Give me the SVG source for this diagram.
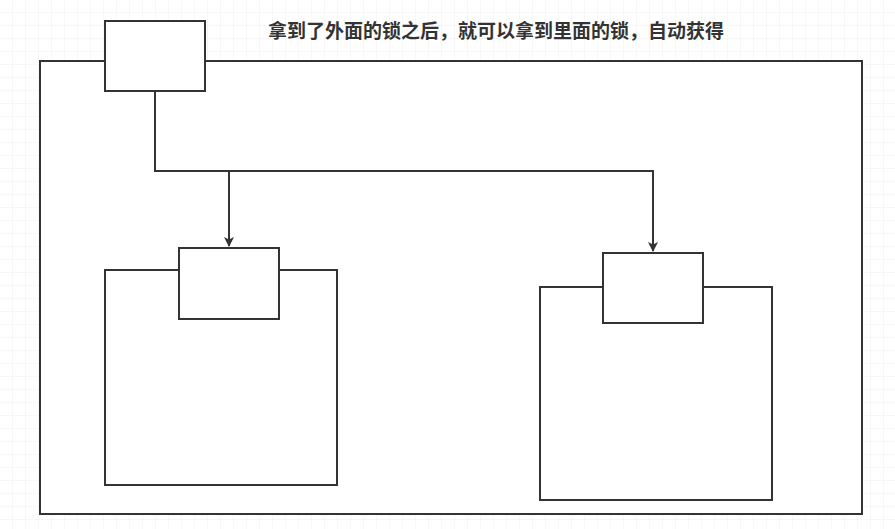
<svg xmlns="http://www.w3.org/2000/svg" width="895" height="529" viewBox="0 0 895 529">
<defs>
<pattern id="g" width="13" height="13" patternUnits="userSpaceOnUse"><path d="M13 0V13H0" fill="none" stroke="#eeeeee" stroke-width="1"/></pattern>
<marker id="a" markerWidth="10" markerHeight="10" refX="9" refY="5" orient="auto" markerUnits="userSpaceOnUse"><path d="M0 0L10 5L0 10L2.5 5Z" fill="#333"/></marker>
<style>.b{fill:#fff;stroke:#333;stroke-width:2}.c{fill:none;stroke:#333;stroke-width:2}</style>
</defs>
<rect width="895" height="529" fill="#fff"/>
<rect width="895" height="529" fill="url(#g)"/>
<g id="outer"><rect class="b" x="40" y="61" width="822" height="453"/></g>
<g id="leftBox"><rect class="b" x="105" y="270" width="232" height="215"/></g>
<g id="rightBox"><rect class="b" x="540" y="287" width="232" height="213"/></g>
<g id="connectors">
<path class="c" d="M155 91V171H229V246" marker-end="url(#a)"/>
<path class="c" d="M229 171H653V251" marker-end="url(#a)"/>
</g>
<g id="topLock"><rect class="b" x="105" y="21" width="100" height="70"/></g>
<g id="leftLock"><rect class="b" x="179" y="248" width="100" height="71"/></g>
<g id="rightLock"><rect class="b" x="603" y="253" width="100" height="70"/></g>
<g id="title"><text x="496" y="38" text-anchor="middle" font-family="'Noto Sans CJK SC',sans-serif" font-size="19" font-weight="bold" fill="#333">拿到了外面的锁之后，就可以拿到里面的锁，自动获得</text></g>
</svg>
